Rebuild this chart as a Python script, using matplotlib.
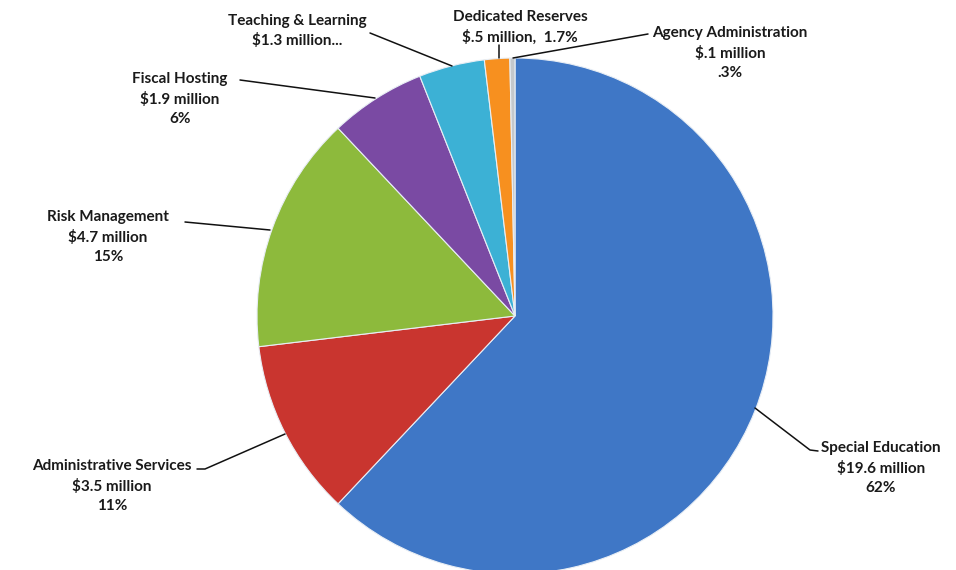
import matplotlib
matplotlib.use("Agg")
import matplotlib.pyplot as plt

categories = ["Special Education", "Administrative Services", "Risk Management",
              "Fiscal Hosting", "Teaching & Learning", "Dedicated Reserves",
              "Agency Administration"]
values = [19.6, 3.5, 4.7, 1.9, 1.3, 0.5, 0.1]
label_texts = [
    "Special Education\n$19.6 million\n62%",
    "Administrative Services\n$3.5 million\n11%",
    "Risk Management\n$4.7 million\n15%",
    "Fiscal Hosting\n$1.9 million\n6%",
    "Teaching & Learning\n$1.3 million...",
    "Dedicated Reserves\n$.5 million,  1.7%",
    "Agency Administration\n$.1 million\n.3%",
]
colors = ["#3f77c6", "#c9352f", "#8dba3c", "#7a4aa3", "#3cb1d5", "#f7901f", "#c4c8cc"]

W, H = 956, 570
fig = plt.figure(figsize=(W / 100, H / 100), dpi=100)
ax = fig.add_axes([0, 0, 1, 1])
ax.set_xlim(0, W)
ax.set_ylim(0, H)
ax.set_aspect("equal")
ax.axis("off")

cx, cy, r = 515, H - 316, 258
ax.pie(values, colors=colors, startangle=90, counterclock=False,
       center=(cx, cy), radius=r,
       wedgeprops=dict(edgecolor="#e8eef5", linewidth=0.8))
ax.set_xlim(0, W)
ax.set_ylim(0, H)

# label centres (pixel coords from top)
label_pos = [(881, 468), (112, 486), (108, 237), (180, 99), (297, 31), (520, 27), (730, 53)]
# leader lines (pixel coords from top)
leaders = [
    [(755, 408), (810, 450), (818, 451)],
    [(197, 469), (205, 469), (285, 434)],
    [(185, 222), (270, 230)],
    [(240, 80), (375, 98)],
    [(370, 33), (452, 66)],
    [(499, 45), (499, 58)],
    [(648, 34), (513, 58)],
]

for txt, (x, y) in zip(label_texts, label_pos):
    ax.text(x, H - y, txt, ha="center", va="center", fontsize=11,
            fontweight="bold", family="Lato", color="#1a1a1a", linespacing=1.45)

for pts in leaders:
    xs = [p[0] for p in pts]
    ys = [H - p[1] for p in pts]
    ax.plot(xs, ys, color="#111111", lw=1.1, solid_capstyle="round")

fig.savefig("out.png", dpi=100, facecolor="white")
